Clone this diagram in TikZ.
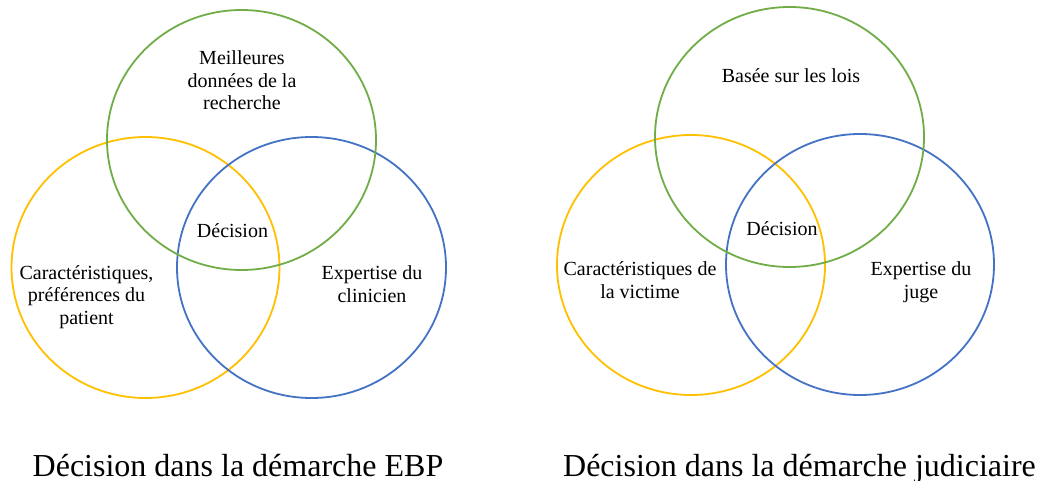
\documentclass[tikz,border=0pt]{standalone}
\usepackage{fontspec}
\setmainfont{Liberation Serif}
\definecolor{vgreen}{HTML}{70AD47}
\definecolor{vyellow}{HTML}{FFC000}
\definecolor{vblue}{HTML}{4472C4}
\tikzset{
  ring/.style={line width=1.8pt},
  lbl/.style={anchor=base, align=center, inner sep=0pt, font=\fontsize{20}{22.5}\selectfont},
  captxt/.style={anchor=base, inner sep=0pt, font=\fontsize{32}{36}\selectfont}
}
\begin{document}
\begin{tikzpicture}[x=1pt,y=-1pt]
\useasboundingbox[fill=white] (0,0) rectangle (1041,481);
% left diagram
\coordinate (gL) at (241.5,140);
\coordinate (yL) at (145.5,267.5);
\coordinate (bL) at (311.5,267.5);
\draw[ring,vyellow] (yL) ellipse [x radius=134, y radius=130.5];
\draw[ring,vblue] (bL) ellipse [x radius=134.5, y radius=130.5];
\draw[ring,vgreen] (gL) ellipse [x radius=134.5, y radius=130];
\node[lbl] (tG1) at (242,110) {Meilleures\\données de la\\recherche};
\node[lbl] (tY1) at (86.5,324) {Caractéristiques,\\préférences du\\patient};
\node[lbl] (tB1) at (372,302) {Expertise du\\clinicien};
\node[lbl] (tD1) at (232.5,237) {Décision};
\node[captxt] (c1) at (238,476) {Décision dans la démarche EBP};
% right diagram
\coordinate (gR) at (789.5,137);
\coordinate (yR) at (691,265);
\coordinate (bR) at (860,264.5);
\draw[ring,vyellow] (yR) ellipse [x radius=134, y radius=130];
\draw[ring,vblue] (bR) ellipse [x radius=134, y radius=130.5];
\draw[ring,vgreen] (gR) ellipse [x radius=134.5, y radius=130];
\node[lbl] (tG2) at (791,83) {Basée sur les lois};
\node[lbl] (tY2) at (640,298) {Caractéristiques de\\la victime};
\node[lbl] (tB2) at (921,298) {Expertise du\\juge};
\node[lbl] (tD2) at (782,235) {Décision};
\node[captxt] (c2) at (799.5,476) {Décision dans la démarche judiciaire};
\end{tikzpicture}
\end{document}
